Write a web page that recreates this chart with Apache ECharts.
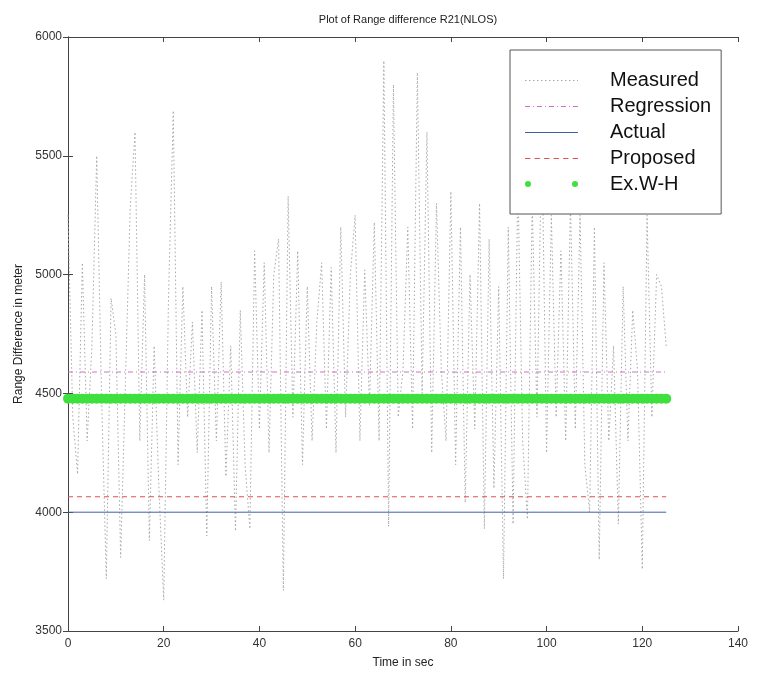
<!DOCTYPE html>
<html>
<head>
<meta charset="utf-8">
<script src="https://cdn.jsdelivr.net/npm/echarts@6/dist/echarts.min.js"></script>
<style>html,body{margin:0;padding:0;background:#fff}#c{width:759px;height:683px}</style>
</head>
<body>
<div id="c"></div>
<script>
// ---- data ----
var timeSec = [0,1,2,3,4,5,6,7,8,9,10,11,12,13,14,15,16,17,18,19,20,21,22,23,24,25,26,27,28,29,30,31,32,33,34,35,36,37,38,39,40,41,42,43,44,45,46,47,48,49,50,51,52,53,54,55,56,57,58,59,60,61,62,63,64,65,66,67,68,69,70,71,72,73,74,75,76,77,78,79,80,81,82,83,84,85,86,87,88,89,90,91,92,93,94,95,96,97,98,99,100,101,102,103,104,105,106,107,108,109,110,111,112,113,114,115,116,117,118,119,120,121,122,123,124,125];
var measured = [5250,4400,4160,5050,4300,4700,5500,4500,3720,4900,4750,3810,4550,5280,5600,4300,5000,3880,4700,4100,3630,4900,5690,4200,4950,4400,4800,4250,4850,3900,4950,4300,4970,4150,4700,3920,4850,4200,3930,5100,4350,5050,4250,5000,5150,3670,5330,4400,5100,4200,4950,4300,4800,5050,4350,5030,4250,5200,4400,5000,5250,4300,5020,4450,5220,4300,5900,3940,5800,4400,4600,5200,4350,5850,4500,5600,4250,5300,4600,4300,5350,4200,5200,4040,5000,4350,5300,3930,5150,4100,4950,3720,5200,3950,5400,4300,3970,5300,4400,5600,4250,5250,4400,5100,4300,5300,4350,5250,4200,4000,5200,3800,5050,4300,4700,3950,4950,4300,4850,4600,3760,5250,4400,5000,4950,4700];
var lineSpan = [0, 125];
var regressionValue = 4590;
var actualValue = 4000;
var proposedValue = 4065;
var exwhValue = 4478;
var xTicks = {min: 0, max: 140, interval: 20};
var yTicks = {min: 3500, max: 6000, interval: 500};
var seriesNames = ['Measured','Regression','Actual','Proposed','Ex.W-H'];

// ---- chart ----
var font = 'Liberation Sans, Arial, sans-serif';
var chart = echarts.init(document.getElementById('c'), null, {renderer: 'canvas'});
function pair(v){ return lineSpan.map(function(t){ return [t, v]; }); }
// legend icon: a 53px-wide, 1px-tall dash pattern built as a path
function dashIcon(pattern){
  var d = '', x = 0, i = 0, W = 53;
  while (x < W) {
    var len = pattern[i % pattern.length];
    if (i % 2 === 0) { var e = Math.min(W, x + len); d += 'M' + x + ',0H' + e + 'V1H' + x + 'Z'; }
    x += len; i++;
  }
  return 'path://M0,-6H0.01V-5.99H0Z' + d + 'M0,6H0.01V6.01H0Z';
}
var axisCommon = {
  axisLine: {show: true, lineStyle: {color: '#444', width: 1}},
  axisTick: {show: true, inside: true, length: 5, lineStyle: {color: '#444'}},
  splitLine: {show: false}
};
var twoDots = 'path://M0,3a3,3 0 1,0 6,0a3,3 0 1,0 -6,0M47,3a3,3 0 1,0 6,0a3,3 0 1,0 -6,0';
var option = {
  backgroundColor: '#fff',
  animation: false,
  title: {
    text: 'Plot of Range difference R21(NLOS)',
    left: 403, textAlign: 'center', top: 9,
    textStyle: {fontFamily: font, fontSize: 11, fontWeight: 'normal', color: '#222'}
  },
  grid: {left: 68, right: 21, top: 37, bottom: 52, containLabel: false},
  legend: {
    orient: 'vertical', left: 510, top: 50,
    backgroundColor: '#fff', borderColor: '#555', borderWidth: 1,
    padding: [20, 10, 20, 15],
    itemWidth: 53, itemHeight: 14, itemGap: 6,
    textStyle: {fontFamily: font, fontSize: 20, lineHeight: 20, color: '#111', padding: [0,0,0,27]},
    data: [
      {name: 'Measured', icon: dashIcon([1.5, 2.5])},
      {name: 'Regression', icon: dashIcon([5, 3, 1, 3])},
      {name: 'Actual', icon: dashIcon([53, 0])},
      {name: 'Proposed', icon: dashIcon([5, 4])},
      {name: 'Ex.W-H', icon: twoDots, itemStyle: {color: '#3ee03e'}}
    ]
  },
  xAxis: [
    Object.assign({type: 'value', position: 'bottom', min: xTicks.min, max: xTicks.max, interval: xTicks.interval,
      name: 'Time in sec', nameLocation: 'middle', nameGap: 26,
      nameTextStyle: {fontFamily: font, fontSize: 12, color: '#222'},
      axisLabel: {fontFamily: font, fontSize: 12, color: '#333', margin: 7}}, axisCommon),
    Object.assign({type: 'value', position: 'top', min: xTicks.min, max: xTicks.max, interval: xTicks.interval,
      axisLabel: {show: false}}, axisCommon)
  ],
  yAxis: [
    Object.assign({type: 'value', position: 'left', min: yTicks.min, max: yTicks.max, interval: yTicks.interval,
      name: 'Range Difference in meter', nameLocation: 'middle', nameGap: 42, nameRotate: 90,
      nameTextStyle: {fontFamily: font, fontSize: 12, color: '#222'},
      axisLabel: {fontFamily: font, fontSize: 12, color: '#333', margin: 6, formatter: function(v){ return String(v); }}}, axisCommon),
    Object.assign({type: 'value', position: 'right', min: yTicks.min, max: yTicks.max, interval: yTicks.interval,
      axisLabel: {show: false}}, axisCommon)
  ],
  series: [
    {name: seriesNames[0], type: 'line', data: timeSec.map(function(t,i){ return [t, measured[i]]; }),
      showSymbol: false, symbol: 'none', color: '#a8a8a8',
      lineStyle: {color: '#a8a8a8', width: 1, type: [1.5, 2.5]}, z: 2},
    {name: seriesNames[1], type: 'line', data: pair(regressionValue), showSymbol: false, symbol: 'none',
      color: '#d070c8', lineStyle: {color: '#d070c8', width: 1, type: [5, 3, 1, 3]}, z: 3},
    {name: seriesNames[2], type: 'line', data: pair(actualValue), showSymbol: false, symbol: 'none',
      color: '#40609e', lineStyle: {color: '#40609e', width: 1, type: 'solid'}, z: 3},
    {name: seriesNames[3], type: 'line', data: pair(proposedValue), showSymbol: false, symbol: 'none',
      color: '#e05050', lineStyle: {color: '#e05050', width: 1, type: [5, 4]}, z: 3},
    {name: seriesNames[4], type: 'scatter', data: timeSec.map(function(t){ return [t, exwhValue]; }),
      symbol: 'circle', symbolSize: 10, itemStyle: {color: '#3ee03e', opacity: 1}, z: 4}
  ]
};
chart.setOption(option);
</script>
</body>
</html>
